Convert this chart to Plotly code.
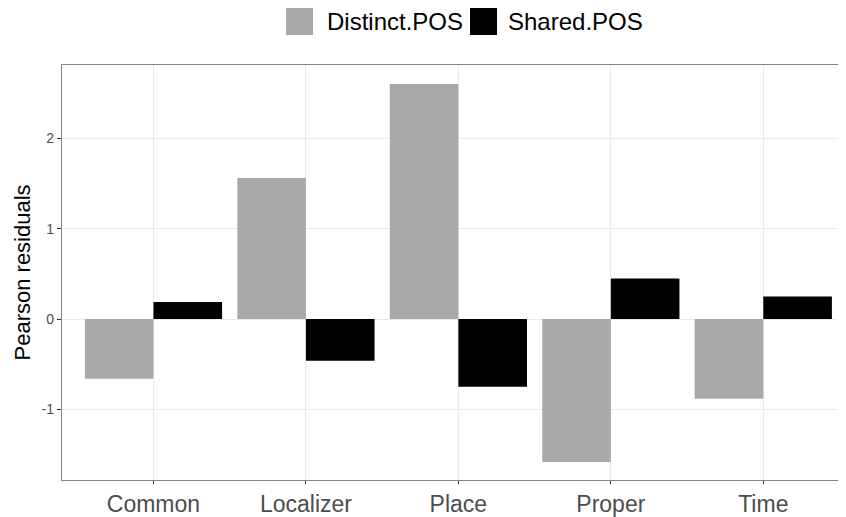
import plotly.graph_objects as go

# Pearson residuals per POS category
categories = ["Common", "Localizer", "Place", "Proper", "Time"]
distinct_pos = [-0.66, 1.56, 2.60, -1.58, -0.88]
shared_pos = [0.19, -0.46, -0.75, 0.45, 0.25]

series_names = ["Distinct.POS", "Shared.POS"]
series_colors = ["#A9A9A9", "#000000"]

y_tickvals = [-1, 0, 1, 2]
y_ticktext = ["-1", "0", "1", "2"]

# the page puts the figure 8px in from the top-left corner
OFF = 8
W, H = 846, 517 - OFF
ML, MR, MT, MB = 62 - OFF, 0, 65 - OFF, 37
font = "Liberation Sans, Arial, sans-serif"

fig = go.Figure()
for name, vals, col in zip(series_names, [distinct_pos, shared_pos], series_colors):
    fig.add_trace(go.Bar(
        x=categories, y=vals, name=name,
        marker=dict(color=col, line=dict(width=0)),
        showlegend=False,
    ))

# legend drawn by hand so the keys are big squares like ggplot's
pw, ph = W - ML - MR, H - MT - MB
def px_x(p):
    return (p - OFF - ML) / pw
def px_y(p):
    return (H - MB - (p - OFF)) / ph

key_left = [286, 470]
text_left = [325, 506]
shapes = []
annotations = []
for name, col, kx, tx in zip(series_names, series_colors, key_left, text_left):
    shapes.append(dict(type="rect", xref="paper", yref="paper",
                       x0=px_x(kx), x1=px_x(kx + 27), y0=px_y(35), y1=px_y(8),
                       fillcolor=col, line=dict(width=0)))
    annotations.append(dict(text=name, xref="paper", yref="paper",
                            x=px_x(tx), y=px_y(21.5), xanchor="left", yanchor="middle",
                            showarrow=False, font=dict(size=24, color="black", family=font)))

# y axis title, placed like ggplot's
annotations.append(dict(text="Pearson residuals", xref="paper", yref="paper",
                        x=px_x(22), y=0.5, xanchor="center", yanchor="middle",
                        textangle=-90, showarrow=False,
                        font=dict(size=22, color="black", family=font)))

fig.update_layout(
    width=W, height=H,
    margin=dict(l=ML, r=MR, t=MT, b=MB),
    barmode="group", bargap=0.1, bargroupgap=0,
    plot_bgcolor="white", paper_bgcolor="white",
    font=dict(family=font),
    shapes=shapes, annotations=annotations,
    showlegend=False,
)
fig.update_xaxes(
    range=[-0.6, 4.595],
    showgrid=True, gridcolor="#EBEBEB", gridwidth=1,
    showline=True, linecolor="#858585", linewidth=1.4, mirror=True,
    ticks="outside", ticklen=3, tickcolor="#333333", tickwidth=1,
    tickfont=dict(size=23, color="#4D4D4D", family=font),
    zeroline=False,
)
fig.update_yaxes(
    range=[-1.78, 2.81],
    tickvals=y_tickvals, ticktext=y_ticktext,
    showgrid=True, gridcolor="#EBEBEB", gridwidth=1,
    showline=True, linecolor="#858585", linewidth=1.4,
    ticks="outside", ticklen=4, tickcolor="#333333", tickwidth=1,
    tickfont=dict(size=14, color="#4D4D4D", family=font),
    zeroline=False,
)

fig.write_html("out.html")
